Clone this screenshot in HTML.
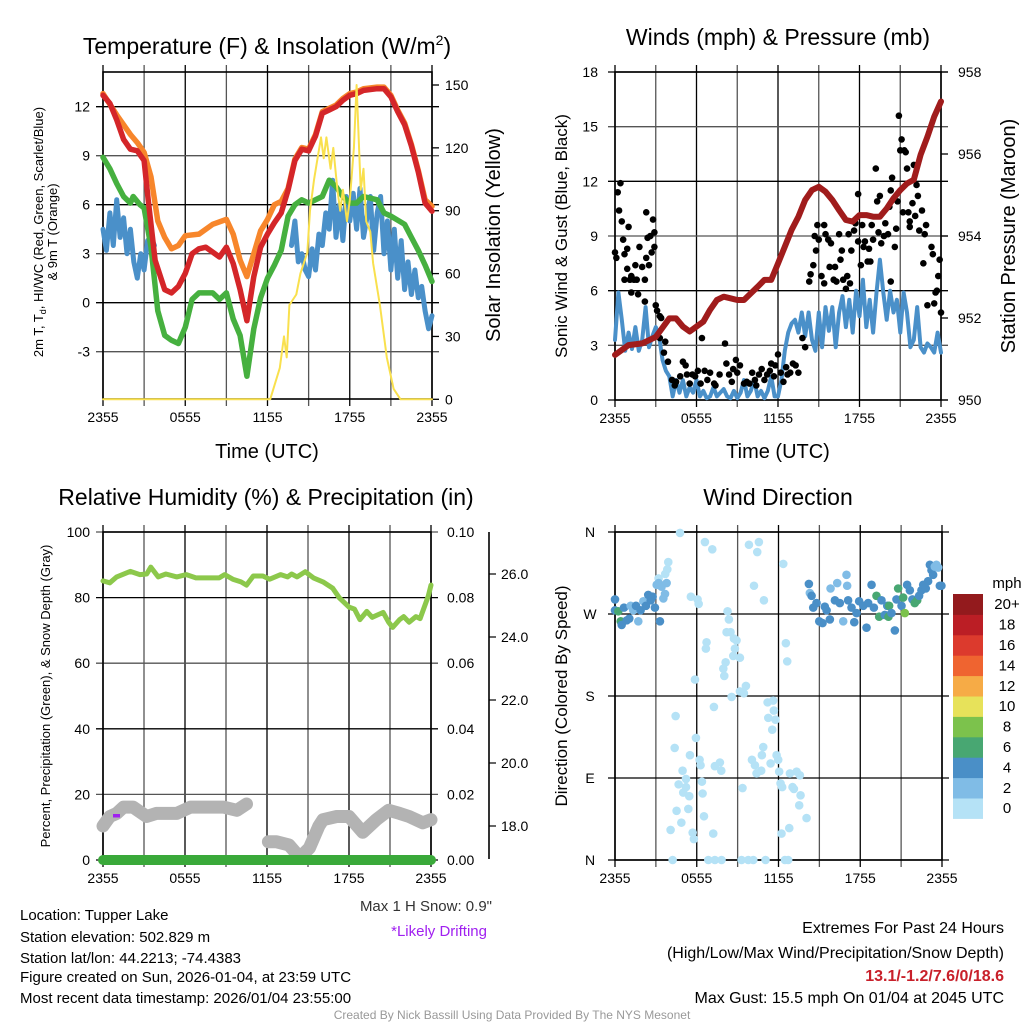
<!DOCTYPE html>
<html><head><meta charset="utf-8">
<style>
html,body{margin:0;padding:0;background:#fff;}
svg{display:block;font-family:"Liberation Sans",Arial,sans-serif;}
</style></head>
<body>
<svg id="fig" width="1024" height="1024" viewBox="0 0 1024 1024" xmlns="http://www.w3.org/2000/svg">
<rect x="0" y="0" width="1024" height="1024" fill="#fff"/>
<g id="g1"></g>
<g id="g2"></g>
<g id="g3"></g>
<g id="g4"></g>

<text x="267" y="54" font-size="23" text-anchor="middle">Temperature (F) &amp; Insolation (W/m<tspan font-size="14" dy="-9">2</tspan><tspan dy="9">)</tspan></text>
<text x="778" y="45" font-size="23" text-anchor="middle">Winds (mph) &amp; Pressure (mb)</text>
<text x="266" y="505" font-size="23" text-anchor="middle">Relative Humidity (%) &amp; Precipitation (in)</text>
<text x="778" y="505" font-size="23" text-anchor="middle">Wind Direction</text>

<text font-size="13" text-anchor="middle" transform="translate(43,232) rotate(-90)">2m T, T<tspan font-size="9" dy="3">d</tspan><tspan dy="-3">, HI/WC (Red, Green, Scarlet/Blue)</tspan></text>
<text font-size="13" text-anchor="middle" transform="translate(57,232) rotate(-90)">&amp; 9m T (Orange)</text>
<text font-size="20" text-anchor="middle" transform="translate(500,235) rotate(-90)">Solar Insolation (Yellow)</text>
<text x="267" y="458" font-size="20" text-anchor="middle">Time (UTC)</text>
<text font-size="17" text-anchor="middle" transform="translate(567,236) rotate(-90)">Sonic Wind &amp; Gust (Blue, Black)</text>
<text font-size="20" text-anchor="middle" transform="translate(1015,236) rotate(-90)">Station Pressure (Maroon)</text>
<text x="778" y="458" font-size="20" text-anchor="middle">Time (UTC)</text>
<text font-size="13" text-anchor="middle" transform="translate(50,696) rotate(-90)">Percent, Precipitation (Green), &amp; Snow Depth (Gray)</text>
<text font-size="17" text-anchor="middle" transform="translate(567,696) rotate(-90)">Direction (Colored By Speed)</text>

<text x="492" y="911" font-size="15" fill="#333" text-anchor="end">Max 1 H Snow: 0.9"</text>
<text x="487" y="936" font-size="15" fill="#a020f0" text-anchor="end">*Likely Drifting</text>

<g font-size="15">
<text x="20" y="920">Location: Tupper Lake</text>
<text x="20" y="942">Station elevation: 502.829 m</text>
<text x="20" y="963">Station lat/lon: 44.2213; -74.4383</text>
<text x="20" y="982">Figure created on Sun, 2026-01-04, at 23:59 UTC</text>
<text x="20" y="1003">Most recent data timestamp: 2026/01/04 23:55:00</text>
</g>
<g font-size="16" text-anchor="end">
<text x="1004" y="933">Extremes For Past 24 Hours</text>
<text x="1004" y="958">(High/Low/Max Wind/Precipitation/Snow Depth)</text>
<text x="1004" y="981" fill="#c8202a" font-weight="bold">13.1/-1.2/7.6/0/18.6</text>
<text x="1004" y="1003">Max Gust: 15.5 mph On 01/04 at 2045 UTC</text>
</g>
<text x="512" y="1019" font-size="12" fill="#999" text-anchor="middle">Created By Nick Bassill Using Data Provided By The NYS Mesonet</text>
</svg>
<script>
// ---------- DATA ----------
var timeTickLabels = ["2355","0555","1155","1755","2355"];
var tempTicks = [-3,0,3,6,9,12];
var insolTicks = [0,30,60,90,120,150];
var redHours = [0,0.5,1,1.5,2,2.5,3,3.3,3.8,4.5,5,5.5,6,6.5,7,7.5,8,8.5,9,9.5,10,10.5,11,11.5,12,12.5,13,13.5,14,14.5,15,15.5,16,16.5,17,17.5,18,18.5,19,20,20.5,21,21.5,22,22.5,23,23.5,24];
var redTemp = [12.7,12.2,11.2,10.0,9.4,9.3,8.7,6.3,2.6,0.8,0.6,1.0,1.8,3.0,3.3,3.4,3.1,2.8,3.4,2.4,0.8,-1.1,1.6,3.4,4.2,4.9,5.5,6.9,8.7,9.4,9.3,10.2,11.6,11.8,12.0,12.4,12.7,12.8,13.0,13.1,13.1,12.6,11.7,10.9,9.6,8.0,6.1,5.6];
var orangeHours = [0,1,2,2.5,3,3.5,4,4.5,5,5.5,6,7,8,9,9.5,10,10.5,11,11.5,12,12.5,13,13.5,14,14.5,15,15.5,16,16.5,17,17.5,18,18.5,19,20,20.5,21,21.5,22,22.5,23,23.5,24];
var orangeTemp = [12.8,11.5,10.3,9.8,9.2,7.7,5.0,4.0,3.3,3.5,4.1,4.2,4.8,5.1,4.2,2.6,1.6,3.0,4.4,5.1,6.0,6.2,7.0,8.8,9.5,9.4,10.3,11.7,11.9,12.1,12.5,12.8,12.9,13.1,13.2,13.2,12.7,11.8,11.0,9.7,8.1,6.3,5.9];
var greenHours = [0,0.5,1,1.5,2,2.2,2.7,3,3.5,4,4.5,5,5.5,6,6.5,7,7.5,8,8.5,9,9.5,10,10.5,11,11.5,12,12.5,13,13.5,14,14.5,15,16,16.5,17,17.5,18,18.5,19,20,20.5,21,22,22.5,23,23.5,24];
var greenTemp = [8.9,8.2,7.3,6.5,6.1,6.5,6.0,5.8,3.4,-0.5,-2.0,-2.3,-2.5,-1.5,0.2,0.6,0.6,0.6,0.2,0.6,-1.0,-2.0,-4.5,-1.6,0.3,1.5,2.3,3.2,5.3,6.0,6.3,6.1,6.5,7.5,7.1,6.5,6.1,6.1,6.5,6.3,5.5,5.3,4.8,4.0,3.2,2.3,1.3];
var blueTempA = [4.5,3.2,5.5,3.5,6.3,4.0,5.2,3.0,4.5,2.5,1.5,3.0,2.0,3.8,4.0,3.5];
var blueTempB = [3.5,5.0,2.5,3.0,2.0,1.6,3.3,2.0,4.2,3.5,5.5,4.5,7.5,4.0,6.0,3.8,6.5,5.0,6.7,4.5,7.0,4.0,5.2,6.5,3.2,5.5,6.5,3.0,5.0,2.0,4.5,1.5,3.8,0.8,2.5,0.5,2.0,0.3,1.0,-0.5,-1.6,-0.8];
var blueStartA = 0, blueStartB = 13.75, blueStep = 0.25;
var solarHours = [0,12.0,12.2,12.9,13.2,13.4,13.6,14.1,14.4,14.9,15.1,15.4,15.9,16.1,16.3,16.6,16.8,17.1,17.3,17.5,17.8,18.0,18.3,18.5,18.8,19.0,19.2,19.5,19.7,20.2,20.7,21.2,21.7,24];
var solarWm2 = [0,0,0,15,30,20,45,50,60,70,90,105,125,115,125,110,120,100,90,100,85,95,120,150,100,110,85,80,65,45,20,5,0,0];

var windTicks = [0,3,6,9,12,15,18];
var pressTicks = [950,952,954,956,958];
var pressHours = [0,1,2,3,4,4.5,5,5.5,6,6.5,7,7.5,8,8.5,9,9.5,10,10.5,11,11.5,12,12.5,13,13.5,14,14.5,15,15.5,16,16.5,17,17.5,18,18.5,19,19.5,20,20.5,21,21.5,22,22.5,23,23.5,24];
var pressMb = [951.1,951.34,951.38,951.54,951.99,951.99,951.79,951.67,951.79,951.91,952.2,952.44,952.52,952.48,952.44,952.44,952.6,952.76,952.93,952.93,953.33,953.74,954.15,954.47,954.88,955.12,955.2,955.08,954.88,954.63,954.39,954.35,954.51,954.51,954.47,954.47,954.67,954.92,955.12,955.28,955.37,955.98,956.42,956.91,957.28];
var sonicStep = 0.25;
var sonicMph = [3.3,5.9,4.4,2.7,3.7,2.8,4.0,2.7,3.3,5.1,2.9,3.5,4.0,3.5,2.2,1.6,1.3,0.2,1.1,0.4,1.1,0.2,0.7,0.4,1.1,0.2,0.5,0.1,0.2,0.7,0.2,0.4,0.6,0.2,0.1,0.5,0.1,0.4,1.1,0.2,0.5,1.1,0.2,0.5,0.1,0.5,1.3,0.2,0.2,1.1,2.7,3.7,4.2,4.4,3.7,4.8,3.5,4.8,3.3,2.7,4.8,2.9,5.1,3.8,5.1,2.9,4.8,5.7,4.0,5.5,3.7,6.0,4.6,6.6,4.0,5.5,3.7,5.9,7.7,5.9,4.4,6.0,4.8,5.5,3.7,5.9,4.8,2.9,3.3,5.1,2.9,2.6,3.1,2.9,2.6,3.7,2.6];
var gustHours = [0,0.1,0.2,0.4,0.3,0.5,0.6,0.7,0.9,1.0,0.7,0.9,1.1,1.2,1.2,1.4,1.5,1.6,1.7,1.8,2.0,2.2,2.2,2.3,2.3,2.4,2.5,2.6,2.7,2.8,2.9,2.9,3.0,3.1,3.3,3.4,3.3,3.7,3.6,3.9,
4.2,4.4,4.5,4.8,5.0,5.2,5.3,5.5,5.7,5.9,6.1,6.3,6.4,6.6,6.8,7.0,7.3,7.4,7.7,8.1,8.2,8.4,8.6,8.7,8.9,9.0,9.2,9.5,9.7,9.9,10.1,10.3,10.4,10.6,10.8,11.0,11.2,11.4,11.5,11.7,11.8,12.0,12.2,12.4,12.6,12.7,12.9,13.1,13.3,13.5,13.8,14.0,
14.3,14.4,14.6,14.7,14.8,14.9,15.0,15.2,15.4,15.4,15.5,15.7,15.8,15.9,16.1,16.2,16.3,16.5,16.6,16.7,16.8,17.0,17.1,17.2,17.3,17.4,17.6,17.7,17.9,17.9,18.1,18.2,18.3,18.4,18.6,18.7,18.8,18.9,19.0,19.2,19.3,19.4,19.5,19.6,19.8,19.9,20.1,20.2,20.3,20.3,20.4,20.6,20.7,20.8,20.9,21.0,21.1,21.2,21.3,21.4,21.5,21.6,21.7,21.7,21.9,22.0,22.1,22.2,22.3,22.4,22.6,22.7,22.8,22.9,23.0,23.3,23.4,23.5,23.6,23.7,23.8,23.9,24.0];
var gustMph = [8.1,7.8,11.4,11.9,10.4,9.8,8.8,8.0,8.3,9.5,6.6,7.2,6.6,6.8,5.9,6.6,7.4,6.6,5.8,8.4,7.3,6.6,5.4,7.8,10.3,8.9,7.4,9.0,8.1,9.9,9.2,8.4,5.2,4.9,4.6,4.5,3.4,3.2,2.6,2.1,
1.1,0.8,1.0,1.3,2.1,1.9,1.4,0.9,1.4,1.3,1.6,0.9,3.4,1.6,1.1,1.5,0.9,0.8,1.4,3.1,2.0,1.4,1.0,1.7,2.2,1.5,1.9,0.9,1.0,0.9,1.5,1.1,0.8,1.4,1.7,1.1,1.4,1.6,2.0,1.3,1.9,2.5,1.5,1.0,1.8,1.4,1.5,2.0,1.9,1.5,3.4,2.9,
6.5,6.9,7.4,9.0,8.2,9.6,8.8,6.8,6.4,9.6,9.1,8.8,7.3,8.6,6.6,7.3,6.5,9.1,7.7,8.2,6.6,6.1,6.8,9.1,6.4,8.2,9.3,9.7,11.3,8.7,7.4,9.6,8.4,8.7,7.6,8.3,7.6,9.6,8.8,12.7,10.9,9.2,11.2,8.6,9.0,9.7,9.1,10.6,11.5,6.5,12.2,8.4,9.4,10.9,15.6,13.7,14.3,10.3,13.7,13.6,12.7,10.3,9.8,9.5,10.8,12.9,10.1,11.8,11.2,9.3,10.4,7.5,9.1,9.6,5.2,8.4,8.0,5.3,5.9,6.0,6.8,7.7,4.8];

var rhTicks = [0,20,40,60,80,100];
var precipTicks = ["0.00","0.02","0.04","0.06","0.08","0.10"];
var snowTicks = [18,20,22,24,26];
var rhHours = [0,0.5,1,2,2.7,3.2,3.5,4.04,4.6,5.4,6.1,6.8,7.8,8.5,8.9,9.5,10.1,10.5,11,11.7,12.2,13,13.5,13.8,14.2,14.8,15.4,16.1,16.8,17.3,18.0,18.4,18.8,19.3,19.7,20.5,20.9,21.2,21.7,22.0,22.4,22.9,23.2,23.8,24];
var rhPct = [85.1,84.5,86.3,88,87,87.2,89.3,86.3,87.2,86.3,87,86,86,86,87,85.6,84.8,83.8,86.6,86.6,85.6,87,86.3,87.2,86.3,87.9,86,84.8,82.9,79.9,77.1,76.5,73.3,75.8,74,75.5,72.5,70.9,73.3,74.2,72.5,74.2,73.6,80.5,83.8];
var precipHours = [0,24];
var precipIn = [0,0];
var snowHours = [0,0.5,1.0,1.5,2.2,3.2,3.9,5.4,6.4,7.8,8.8,9.8,10.5,null,12.1,12.7,13.6,14.4,15.1,15.8,16.1,17.1,18.0,19.0,20.0,20.9,21.7,22.4,23.4,24];
var snowDepth = [18.0,18.3,18.4,18.6,18.6,18.3,18.4,18.4,18.6,18.6,18.6,18.5,18.7,null,17.5,17.5,17.4,17.0,17.3,18.0,18.2,18.3,18.3,17.8,18.2,18.5,18.4,18.3,18.1,18.2];

var dirTickLabels = ["N","E","S","W","N"];
var dirTickDeg = [0,90,180,270,360];
var dirHours = [4.77,6.60,7.14,9.83,10.56,10.44,12.35,3.91,3.84,3.69,3.20,10.20,10.93,5.57,6.06,6.14,8.26,8.36,8.19,8.48,8.73,8.92,8.80,6.72,6.67,8.68,9.17,8.12,7.95,8.02,5.87,9.61,9.17,9.46,8.56,12.54,12.64,7.26,4.45,11.20,11.61,11.66,11.25,11.78,11.54,5.94,4.38,5.50,6.21,6.28,7.33,7.70,7.80,4.96,10.05,10.27,10.39,10.73,10.88,10.78,11.42,11.86,11.98,12.05,12.84,13.33,13.57,5.21,4.67,5.21,5.01,5.45,6.38,6.43,9.36,12.15,12.27,13.03,13.13,13.62,13.52,14.06,4.52,5.38,6.53,4.87,4.08,5.70,5.79,7.21,12.79,12.22,4.23,6.85,7.33,7.82,9.29,9.78,10.15,11.05,12.47,12.71,
0.00,0.00,0.24,0.42,0.49,0.66,0.86,1.05,1.15,1.34,1.54,1.71,1.88,2.08,2.27,2.44,2.62,2.76,2.93,3.06,3.30,3.42,3.55,3.67,3.79,3.20,
14.23,14.30,14.43,14.55,14.79,14.99,15.23,15.40,15.53,15.77,15.82,16.14,16.31,16.50,16.75,16.99,17.04,17.11,17.36,17.56,17.73,17.92,18.22,18.46,18.58,18.83,19.00,19.19,19.39,19.56,19.80,19.98,20.12,20.07,20.29,20.54,20.66,20.78,21.03,21.15,21.27,21.44,21.64,21.83,22.00,22.18,22.32,22.49,22.62,22.81,22.98,23.11,23.23,23.35,23.47,23.59,23.72,23.84,23.96];
var dirDeg = [359,349,341,346,349,338,325,327,319,314,309,301,285,289,286,281,273,264,250,250,243,241,232,239,232,224,222,217,210,202,198,191,185,183,179,238,218,168,158,173,175,164,156,154,143,134,123,115,110,104,103,107,98,98,110,104,95,98,124,115,106,115,110,97,95,97,93,89,83,80,74,70,86,73,79,84,80,80,78,71,60,46,54,56,48,41,33,30,23,29,35,29,0,0,0,0,0,0,0,0,0,0,
286,274,273,262,258,277,263,265,279,274,279,262,274,284,279,291,285,289,277,302,262,300,287,292,304,304,
303,293,290,277,282,262,260,278,274,264,298,285,304,282,262,313,301,285,277,261,271,284,279,255,282,302,277,290,267,285,269,279,279,267,271,252,286,298,279,288,271,302,296,286,282,285,290,296,302,298,306,324,318,313,322,324,321,301,301];
var dirSpeed = [1,1,1,1,1,1,1,1,1,1,1,1,1,1,1,1,1,1,1,1,1,1,1,1,1,1,1,1,1,1,1,1,1,1,1,1,1,1,1,1,1,1,1,1,1,1,1,1,1,1,1,1,1,1,1,1,1,1,1,1,1,1,1,1,1,1,1,1,1,1,1,1,1,1,1,1,1,1,1,1,1,1,1,1,1,1,1,1,1,1,1,1,0,0,0,0,0,0,0,0,0,0,
4,4,7,7,4,4,4,4,3,3,4,3,4,3,4,4,4,4,4,3,4,3,3,3,3,3,
4,3,4,4,4,4,4,4,4,4,3,4,3,4,3,3,3,4,4,4,4,4,4,4,4,4,4,7,7,4,4,4,7,7,4,4,4,7,4,7,8,4,4,4,7,7,4,4,4,4,4,4,4,4,2,2,2,4,4];
var speedBinLabels = ["0","2","4","6","8","10","12","14","16","18","20+"];
var speedBinColors = ["#b5e2f6","#80bce6","#4a8fc7","#48a772","#7cc24c","#e7e25a","#f6ab46","#ef6430","#dc3a2d","#bb1e25","#931a1d"];

// ---------- HELPERS ----------
var NS = "http://www.w3.org/2000/svg";
function mk(parent, tag, attrs) {
  var e = document.createElementNS(NS, tag);
  for (var k in attrs) e.setAttribute(k, attrs[k]);
  parent.appendChild(e);
  return e;
}
function scale(d0, d1, r0, r1) { return function (v) { return r0 + (v - d0) * (r1 - r0) / (d1 - d0); }; }
function pathFrom(xs, ys, sx, sy) {
  var d = "", pen = false;
  for (var i = 0; i < xs.length; i++) {
    if (xs[i] === null || ys[i] === null) { pen = false; continue; }
    d += (pen ? "L" : "M") + sx(xs[i]).toFixed(1) + " " + sy(ys[i]).toFixed(1);
    pen = true;
  }
  return d;
}
function frame(g, L, R, T, B) {
  var sx = scale(0, 24, L, R);
  for (var h = 0; h <= 24; h += 3) {
    var ln = mk(g, "line", {x1: sx(h), x2: sx(h), y1: T - 7, y2: B + 7, stroke: (h % 6 === 0) ? "#000" : "#555", "stroke-width": 1.3});
    
    
  }
  for (var j = 0; j < timeTickLabels.length; j++) {
    var t = mk(g, "text", {x: sx(j * 6), y: B + 23, "font-size": 14, "text-anchor": "middle"});
    t.textContent = timeTickLabels[j];
    
    
  }
  return sx;
}
function hgrid(g, L, R, y, dark) {
  var ln = mk(g, "line", {x1: L - 7, x2: R + 7, y1: y, y2: y, stroke: dark ? "#000" : "#555", "stroke-width": 1.3});
  
  
}
function label(g, x, y, txt, anchor, name, size) {
  var t = mk(g, "text", {x: x, y: y, "font-size": size || 14, "text-anchor": anchor});
  t.textContent = txt;
  
  
  return t;
}
function border(g, L, R, T, B) {
  var r = mk(g, "rect", {x: L, y: T, width: R - L, height: B - T, fill: "none", stroke: "#000", "stroke-width": 1.6});
  
  
}
function series(g, xs, ys, sx, sy, color, w, name) {
  var p = mk(g, "path", {d: pathFrom(xs, ys, sx, sy), fill: "none", stroke: color, "stroke-width": w, "stroke-linejoin": "round", "stroke-linecap": "round"});
  
  
  return p;
}

// ---------- PANEL 1 ----------
(function () {
  var g = document.getElementById("g1");
  var L = 103, R = 432, T = 72, B = 399;
  var sy = scale(0, 12, 302.7, 106.7);
  var sy2 = scale(0, 150, 399.3, 85);
  var sx = frame(g, L, R, T, B);
  tempTicks.forEach(function (v) { hgrid(g, L, R, sy(v), v % 6 === 0); label(g, 90, sy(v) + 5, String(v), "end", "temperature-tick-label"); });
  insolTicks.forEach(function (v) {
    var tk = mk(g, "line", {x1: R, x2: R + 7, y1: sy2(v), y2: sy2(v), stroke: "#000", "stroke-width": 1.3});
    
    
    label(g, 445, sy2(v) + 5, String(v), "start", "insolation-tick-label");
  });
  border(g, L, R, T, B);
  var ha = blueTempA.map(function (_, i) { return blueStartA + i * blueStep; });
  var hb = blueTempB.map(function (_, i) { return blueStartB + i * blueStep; });
  series(g, ha, blueTempA, sx, sy, "#4a90c9", 5, "blue-temperature-line-a");
  series(g, hb, blueTempB, sx, sy, "#4a90c9", 5, "blue-temperature-line-b");
  series(g, greenHours, greenTemp, sx, sy, "#46b03f", 5.5, "dewpoint-green-line");
  series(g, orangeHours, orangeTemp, sx, sy, "#f7862b", 5.5, "9m-temperature-orange-line");
  series(g, redHours, redTemp, sx, sy, "#d42629", 5.5, "2m-temperature-red-line");
  series(g, solarHours, solarWm2, sx, sy2, "#f9e04d", 2, "solar-insolation-yellow-line");
})();

// ---------- PANEL 2 ----------
(function () {
  var g = document.getElementById("g2");
  var L = 615, R = 941, T = 72, B = 400;
  var sy = scale(0, 18, B, T);
  var sy2 = scale(950, 958, B, T);
  var sx = frame(g, L, R, T, B);
  windTicks.forEach(function (v) { hgrid(g, L, R, sy(v), v % 6 === 0); label(g, 598, sy(v) + 5, String(v), "end", "wind-tick-label"); });
  pressTicks.forEach(function (v) {
    var tk = mk(g, "line", {x1: R, x2: R + 7, y1: sy2(v), y2: sy2(v), stroke: "#000", "stroke-width": 1.3});
    
    
    label(g, 958, sy2(v) + 5, String(v), "start", "pressure-tick-label");
  });
  border(g, L, R, T, B);
  var sh = sonicMph.map(function (_, i) { return i * sonicStep; });
  series(g, sh, sonicMph, sx, sy, "#4a90c9", 4, "sonic-wind-line");
  for (var i = 0; i < gustHours.length; i++) {
    var c = mk(g, "circle", {cx: sx(gustHours[i]), cy: sy(gustMph[i]), r: 3.3, fill: "#000"});
    
    
  }
  series(g, pressHours, pressMb, sx, sy2, "#a01c1c", 6, "pressure-maroon-line");
})();

// ---------- PANEL 3 ----------
(function () {
  var g = document.getElementById("g3");
  var L = 103, R = 431, T = 532, B = 860;
  var sy = scale(0, 100, B, T);
  var sy3 = scale(18, 26, 826, 574);
  var sx = frame(g, L, R, T, B);
  rhTicks.forEach(function (v, i) {
    hgrid(g, L, R, sy(v), v % 40 === 0);
    label(g, 90, sy(v) + 5, String(v), "end", "rh-tick-label");
    label(g, 447, sy(v) + 5, precipTicks[i], "start", "precip-tick-label");
  });
  var ax = mk(g, "line", {x1: 489, x2: 489, y1: T, y2: B - 1, stroke: "#000", "stroke-width": 1.6});
  
  
  snowTicks.forEach(function (v) {
    var tk = mk(g, "line", {x1: 489, x2: 496, y1: sy3(v), y2: sy3(v), stroke: "#000", "stroke-width": 1.2});
    
    
    label(g, 501, sy3(v) + 5, v.toFixed(1), "start", "snow-depth-tick-label");
  });
  border(g, L, R, T, B);
  series(g, snowHours, snowDepth, sx, sy3, "#b3b3b3", 13, "snow-depth-gray-line");
  var pr = mk(g, "rect", {x: 113, y: 814, width: 7, height: 3.5, fill: "#a020f0"});
  
  
  var syp = scale(0, 0.1, B, T);
  series(g, precipHours, precipIn, sx, syp, "#3aa93a", 10, "precipitation-green-line");
  series(g, rhHours, rhPct, sx, sy, "#8cc84b", 5, "relative-humidity-line");
})();

// ---------- PANEL 4 ----------
(function () {
  var g = document.getElementById("g4");
  var L = 615, R = 942, T = 532, B = 860;
  var sy = scale(0, 360, B, T);
  var sx = frame(g, L, R, T, B);
  dirTickDeg.forEach(function (v, i) { hgrid(g, L, R, sy(v), true); label(g, 590, sy(v) + 5, dirTickLabels[i], "middle", "direction-tick-label"); });
  border(g, L, R, T, B);
  for (var i = 0; i < dirHours.length; i++) {
    var bin = Math.min(10, Math.floor(dirSpeed[i] / 2));
    var c = mk(g, "circle", {cx: sx(dirHours[i]), cy: sy(dirDeg[i]), r: 4.3, fill: speedBinColors[bin]});
    
    
  }
  var cb = mk(g, "g", {});
  
  
  var top = 594, bh = 20.4;
  for (var k = 0; k < speedBinColors.length; k++) {
    var y = top + (10 - k) * bh;
    var r = mk(cb, "rect", {x: 953, y: y, width: 30, height: bh + 0.5, fill: speedBinColors[k]});
    
    
    label(cb, 1007, y + bh / 2 + 5, speedBinLabels[k], "middle", "colorbar-label", 15);
  }
  label(cb, 1007, 588, "mph", "middle", "colorbar-title", 15);
})();
</script>
</body></html>
